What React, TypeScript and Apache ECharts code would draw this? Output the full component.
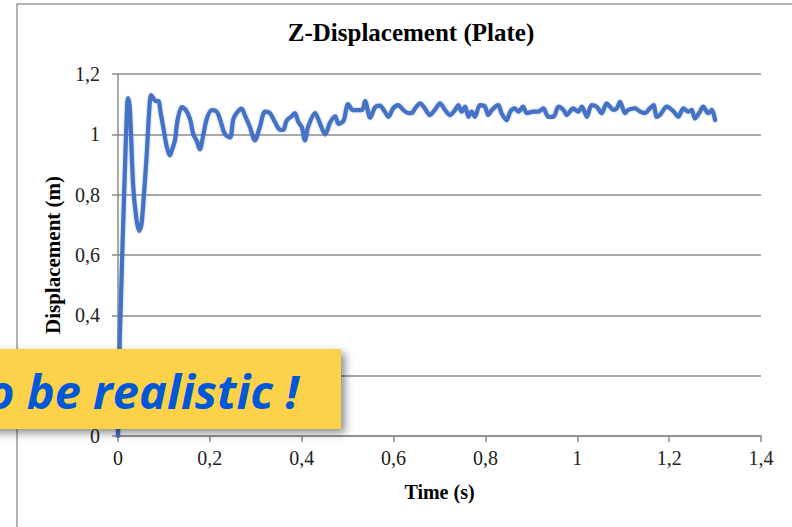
import React, { useEffect, useRef } from "react";
import * as echarts from "echarts";

const chartTitle = "Z-Displacement (Plate)";
const xAxisTitle = "Time (s)";
const yAxisTitle = "Displacement (m)";
const bannerText = "o be realistic !";

const timeS = [
  0, 0.004, 0.015, 0.020, 0.022, 0.026, 0.033, 0.040, 0.046, 0.051,
  0.055, 0.062, 0.068, 0.072, 0.077, 0.082, 0.088, 0.093, 0.099, 0.106,
  0.113, 0.118, 0.124, 0.130, 0.139, 0.148, 0.157, 0.164, 0.171, 0.178,
  0.186, 0.193, 0.204, 0.215, 0.222, 0.233, 0.244, 0.251, 0.258, 0.269,
  0.277, 0.287, 0.298, 0.309, 0.320, 0.331, 0.342, 0.353, 0.360, 0.367,
  0.378, 0.385, 0.393, 0.400, 0.407, 0.414, 0.429, 0.440, 0.451, 0.462,
  0.473, 0.480, 0.491, 0.501, 0.512, 0.531, 0.538, 0.549, 0.560, 0.570,
  0.581, 0.589, 0.599, 0.610, 0.621, 0.632, 0.639, 0.647, 0.658, 0.668,
  0.679, 0.690, 0.701, 0.712, 0.723, 0.734, 0.741, 0.748, 0.756, 0.763,
  0.770, 0.777, 0.788, 0.799, 0.806, 0.814, 0.828, 0.835, 0.846, 0.854,
  0.864, 0.872, 0.882, 0.890, 0.904, 0.915, 0.926, 0.937, 0.948, 0.959,
  0.970, 0.977, 0.991, 1.002, 1.010, 1.021, 1.031, 1.042, 1.053, 1.064,
  1.071, 1.078, 1.086, 1.093, 1.104, 1.111, 1.126, 1.137, 1.147, 1.158,
  1.166, 1.173, 1.180, 1.195, 1.206, 1.213, 1.220, 1.231, 1.242, 1.249,
  1.256, 1.267, 1.274, 1.285, 1.293, 1.300,
];

const displacementM = [
  0, 0.33, 0.88, 1.10, 1.12, 1.08, 0.83, 0.72, 0.68, 0.70,
  0.77, 0.92, 1.08, 1.13, 1.12, 1.11, 1.11, 1.07, 1.02, 0.96,
  0.93, 0.95, 0.98, 1.05, 1.09, 1.08, 1.05, 1.00, 0.98, 0.95,
  1.00, 1.05, 1.08, 1.075, 1.05, 1.00, 0.99, 1.05, 1.07, 1.085,
  1.06, 1.025, 0.98, 1.025, 1.075, 1.07, 1.04, 1.015, 1.015, 1.045,
  1.06, 1.07, 1.04, 1.025, 0.98, 1.025, 1.07, 1.035, 1.00, 1.04,
  1.06, 1.035, 1.045, 1.10, 1.08, 1.08, 1.11, 1.055, 1.09, 1.095,
  1.075, 1.058, 1.086, 1.097, 1.081, 1.070, 1.070, 1.086, 1.103, 1.086,
  1.064, 1.081, 1.103, 1.081, 1.064, 1.081, 1.097, 1.075, 1.092, 1.058,
  1.075, 1.058, 1.097, 1.092, 1.064, 1.081, 1.097, 1.070, 1.047, 1.075,
  1.086, 1.075, 1.092, 1.070, 1.075, 1.075, 1.086, 1.058, 1.058, 1.092,
  1.081, 1.064, 1.086, 1.075, 1.092, 1.058, 1.097, 1.092, 1.070, 1.103,
  1.092, 1.081, 1.086, 1.108, 1.070, 1.081, 1.086, 1.075, 1.070, 1.086,
  1.097, 1.058, 1.064, 1.092, 1.081, 1.070, 1.058, 1.086, 1.075, 1.081,
  1.053, 1.075, 1.092, 1.070, 1.081, 1.047,
];

const xTicks = { min: 0, max: 1.4, interval: 0.2 };
const yTicks = { min: 0, max: 1.2, interval: 0.2 };

const serif = '"Liberation Serif", "Times New Roman", serif';
const fmt = (v: number) => String(Math.round(v * 10) / 10).replace(".", ",");

export default function App() {
  const ref = useRef<HTMLDivElement>(null);
  useEffect(() => {
    if (!ref.current) return;
    const chart = echarts.init(ref.current, null, { renderer: "svg" });
    const data = timeS.map((t, i) => [t, displacementM[i]]);
    chart.setOption({
      animation: false,
      backgroundColor: "#ffffff",
      title: {
        text: chartTitle,
        left: 406,
        top: 15,
        textAlign: "center",
        textStyle: { fontFamily: serif, fontSize: 25, fontWeight: "bold", color: "#000" },
      },
      grid: { left: 118, right: 31, top: 74, bottom: 91, containLabel: false },
      xAxis: {
        type: "value",
        min: xTicks.min,
        max: xTicks.max,
        interval: xTicks.interval,
        name: xAxisTitle,
        nameLocation: "middle",
        nameGap: 46,
        nameTextStyle: { fontFamily: serif, fontSize: 20, fontWeight: "bold", color: "#000" },
        axisLine: { show: true, lineStyle: { color: "#8c8c8c", width: 1.5 } },
        axisTick: { show: true, length: 6, lineStyle: { color: "#8c8c8c", width: 1.5 } },
        axisLabel: { fontFamily: serif, fontSize: 20, color: "#222", margin: 12, formatter: fmt },
        splitLine: { show: false },
      },
      yAxis: {
        type: "value",
        min: yTicks.min,
        max: yTicks.max,
        interval: yTicks.interval,
        name: yAxisTitle,
        nameLocation: "middle",
        nameGap: 55,
        nameRotate: 90,
        nameTextStyle: { fontFamily: serif, fontSize: 21, fontWeight: "bold", color: "#000" },
        axisLine: { show: true, lineStyle: { color: "#8c8c8c", width: 1.5 } },
        axisTick: { show: true, length: 6, lineStyle: { color: "#8c8c8c", width: 1.5 } },
        axisLabel: { fontFamily: serif, fontSize: 20, color: "#222", margin: 18, formatter: fmt },
        splitLine: { show: true, lineStyle: { color: "#8c8c8c", width: 1.5 } },
      },
      series: [
        {
          type: "line",
          data,
          showSymbol: false,
          smooth: 0.3,
          lineStyle: {
            color: "#4472C4",
            width: 4.2,
            join: "round",
            cap: "round",
            shadowBlur: 2,
            shadowColor: "rgba(68,114,196,0.45)",
          },
          z: 3,
        },
      ],
      graphic: [
        {
          type: "rect",
          z: 50,
          silent: true,
          shape: { x: 17, y: 4, width: 900, height: 700 },
          style: { fill: "none", stroke: "#9a9a9a", lineWidth: 1.5 },
        },
        {
          type: "rect",
          z: 100,
          shape: { x: -20, y: 349, width: 361, height: 80 },
          style: {
            fill: "#FDD24B",
            shadowBlur: 8,
            shadowOffsetX: 4,
            shadowOffsetY: 4,
            shadowColor: "rgba(0,0,0,0.45)",
          },
        },
        {
          type: "text",
          z: 101,
          style: {
            text: bannerText,
            x: -13,
            y: 391,
            verticalAlign: "middle",
            align: "left",
            fontFamily: '"Open Sans", "Noto Sans", sans-serif',
            fontSize: 47,
            fontWeight: "bold",
            fontStyle: "italic",
            fill: "#0057D8",
          },
        },
      ],
    });
    return () => chart.dispose();
  }, []);
  return (
    <div
      ref={ref}
      style={{ position: "fixed", left: 0, top: 0, width: 792, height: 527 }}
    />
  );
}
